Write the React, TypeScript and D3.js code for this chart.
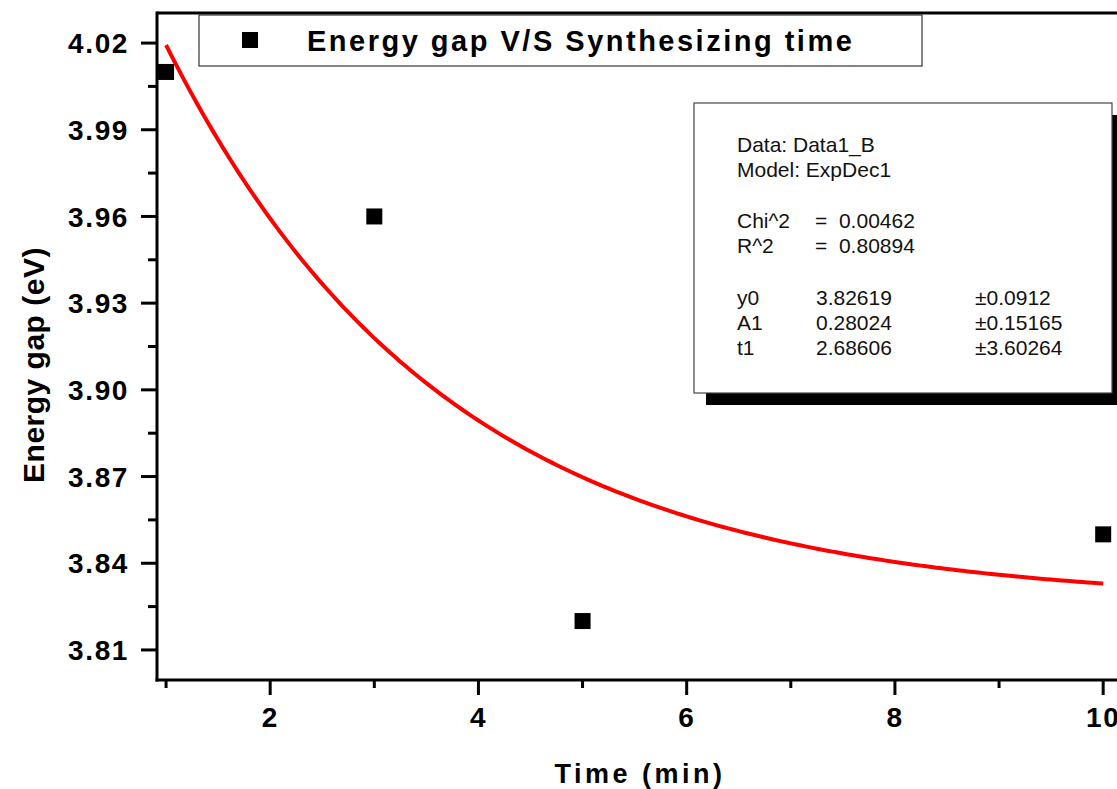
import React from "react";
import * as d3 from "d3";

const times = [1, 3, 5, 10];
const energyGaps = [4.01, 3.96, 3.82, 3.85];
const yTicks = [3.81, 3.84, 3.87, 3.9, 3.93, 3.96, 3.99, 4.02];
const xTicks = [2, 4, 6, 8, 10];
const fitY0 = 3.82619;
const fitA1 = 0.28024;
const fitT1 = 2.68606;
const statsHeader = ["Data: Data1_B", "Model: ExpDec1"];
const statsGoodness = [["Chi^2", "=  0.00462"], ["R^2", "=  0.80894"]];
const statsParams = [
  ["y0", "3.82619", "\u00b10.0912"],
  ["A1", "0.28024", "\u00b10.15165"],
  ["t1", "2.68606", "\u00b13.60264"],
];

const W = 1117;
const H = 789;
const left = 157;
const right = 1124;
const top = 13;
const bottom = 680;

export default function App() {
  const x = d3.scaleLinear().domain([0.913, 10.2]).range([left, right]);
  const y = d3.scaleLinear().domain([3.7996, 4.0304]).range([bottom, top]);

  const yMinor = d3.range(3.825, 4.03, 0.03);
  const xMinor = [1, 3, 5, 7, 9];

  const fitXs = d3.range(0, 181).map((i) => 1 + (9 * i) / 180);
  const line = d3
    .line<number>()
    .x((t) => x(t))
    .y((t) => y(fitY0 + fitA1 * Math.exp(-t / fitT1)));

  const font = "'Liberation Sans', Arial, sans-serif";
  const sq = 16;

  return (
    <svg
      width={W}
      height={H}
      style={{ position: "absolute", left: 0, top: 0, background: "#fff" }}
      fontFamily={font}
    >
      {/* fit curve */}
      <path d={line(fitXs) || ""} fill="none" stroke="#ff0000" strokeWidth={4} />

      {/* data points */}
      {times.map((t, i) => (
        <rect
          key={i}
          x={x(t) - sq / 2}
          y={y(energyGaps[i]) - sq / 2}
          width={sq}
          height={sq}
          fill="#000"
        />
      ))}

      {/* axes */}
      <line x1={left} y1={top} x2={W} y2={top} stroke="#000" strokeWidth={3} />
      <line x1={left} y1={top - 1.5} x2={left} y2={bottom + 1.5} stroke="#000" strokeWidth={3} />
      <line x1={left - 1.5} y1={bottom} x2={W} y2={bottom} stroke="#000" strokeWidth={3} />

      {/* y ticks */}
      {yTicks.map((v) => (
        <g key={"y" + v}>
          <line x1={left - 16} x2={left} y1={y(v)} y2={y(v)} stroke="#000" strokeWidth={3} />
          <text
            x={129}
            y={y(v)}
            dy="0.36em"
            textAnchor="end"
            fontSize={28}
            fontWeight="bold"
            letterSpacing={1.6}
          >
            {v.toFixed(2)}
          </text>
        </g>
      ))}
      {yMinor.map((v) => (
        <line key={"ym" + v} x1={left - 9} x2={left} y1={y(v)} y2={y(v)} stroke="#000" strokeWidth={3} />
      ))}

      {/* x ticks */}
      {xTicks.map((v) => (
        <g key={"x" + v}>
          <line x1={x(v)} x2={x(v)} y1={bottom} y2={bottom + 15} stroke="#000" strokeWidth={3} />
          <text
            x={x(v)}
            y={727}
            textAnchor="middle"
            fontSize={28}
            fontWeight="bold"
            letterSpacing={1.5}
          >
            {v}
          </text>
        </g>
      ))}
      {xMinor.map((v) => (
        <line key={"xm" + v} x1={x(v)} x2={x(v)} y1={bottom} y2={bottom + 8} stroke="#000" strokeWidth={3} />
      ))}

      {/* axis titles */}
      <text x={640} y={783} textAnchor="middle" fontSize={27} fontWeight="bold" letterSpacing={3.5}>
        Time (min)
      </text>
      <text
        transform={`translate(44, 365) rotate(-90)`}
        textAnchor="middle"
        fontSize={30}
        fontWeight="bold"
        letterSpacing={0.5}
      >
        Energy gap (eV)
      </text>

      {/* legend */}
      <rect x={199} y={15} width={723} height={51} fill="#fff" stroke="#333" strokeWidth={1.2} />
      <rect x={242} y={32} width={16} height={16} fill="#000" />
      <text x={307} y={51} fontSize={29} fontWeight="bold" letterSpacing={2.5}>
        Energy gap V/S Synthesizing time
      </text>

      {/* stats box */}
      <rect x={706} y={115} width={418} height={290} fill="#000" />
      <rect x={694} y={103} width={418} height={290} fill="#fff" stroke="#444" strokeWidth={1.2} />
      <g fontSize={21} fill="#111" style={{ whiteSpace: "pre" }}>
        {statsHeader.map((s, i) => (
          <text key={"h" + i} x={737} y={152 + i * 25}>
            {s}
          </text>
        ))}
        {statsGoodness.map((r, i) => (
          <g key={"g" + i}>
            <text x={737} y={228 + i * 25}>{r[0]}</text>
            <text x={815} y={228 + i * 25} xmlSpace="preserve">{r[1]}</text>
          </g>
        ))}
        {statsParams.map((r, i) => (
          <g key={"p" + i}>
            <text x={737} y={305 + i * 25}>{r[0]}</text>
            <text x={816} y={305 + i * 25}>{r[1]}</text>
            <text x={975} y={305 + i * 25}>{r[2]}</text>
          </g>
        ))}
      </g>
    </svg>
  );
}
